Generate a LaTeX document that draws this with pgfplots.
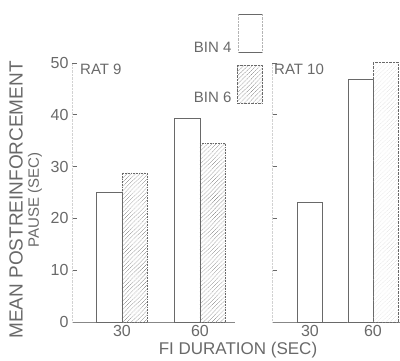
\documentclass[border=0pt]{standalone}
\usepackage{fontspec}
\setmainfont{Liberation Sans}
\usepackage{pgfplots}
\pgfplotsset{compat=1.18}
\usetikzlibrary{patterns,patterns.meta}
\definecolor{ink}{RGB}{105,105,105}
\begin{document}
\begin{tikzpicture}[x=1pt,y=1pt]
\useasboundingbox (0,0) rectangle (400,360);
\pgfplotsset{panel/.style={
  scale only axis, anchor=south west, ymin=0, ymax=50, height=259pt, clip=false,
  axis x line*=bottom, axis y line*=left,
  ytick={0,10,...,50}, tick align=inside, major tick length=5pt,
  xtick={30,60}, xtick style={draw=none},
  ytick style={draw=ink, line width=0.8pt},
  x axis line style={draw=ink!80,-},
  y axis line style={draw=ink!30,densely dotted,-},
  ticklabel style={font=\fontsize{16}{16}\selectfont, text=ink},
  /pgf/number format/assume math mode=true}}
% Left panel: RAT 9
\begin{axis}[panel, at={(72pt,38pt)}, width=163pt, xmin=10.8, xmax=73.5]
\addplot[ybar, bar width=25.5pt, bar shift=-12.75pt, fill=white, draw=ink] coordinates {(30,25.1) (60,39.4)};
\addplot[ybar, bar width=25.5pt, bar shift=12.75pt, pattern={Lines[angle=45,distance=3pt,line width=0.6pt]}, pattern color=ink!85, draw=ink, densely dotted] coordinates {(30,28.8) (60,34.5)};
\node[anchor=north west, font=\fontsize{15}{15}\selectfont, text=ink, inner sep=0pt] at (rel axis cs:0,1) [xshift=8pt, yshift=-1pt] {RAT 9};
\end{axis}
% Right panel: RAT 10
\begin{axis}[panel, at={(272pt,38pt)}, width=128pt, xmin=0.6, xmax=75.9,
  yticklabels={}, xticklabels={\hspace*{-24pt}30,60}]
\addplot[ybar, bar width=25pt, bar shift=-12.5pt, fill=white, draw=ink] coordinates {(30,23.2) (60,46.9)};
\addplot[ybar, bar width=25pt, bar shift=12.5pt, pattern={Lines[angle=45,distance=3pt,line width=0.4pt]}, pattern color=ink!30, draw=ink, densely dotted] coordinates {(30,0) (60,50.2)};
\node[anchor=north west, font=\fontsize{15}{15}\selectfont, text=ink, inner sep=0pt] at (rel axis cs:0,1) [xshift=2pt, yshift=-1pt] {RAT 10};
\end{axis}
% Legend
\draw[ink, thick] (238,346) -- (262,346);
\draw[ink, thick] (238,308) -- (262,308);
\draw[ink!50, densely dotted] (238,308) -- (238,346) (262,308) -- (262,346);
\draw[ink, densely dotted, pattern={Lines[angle=45,distance=3pt,line width=0.6pt]}, pattern color=ink] (237,257) rectangle (262,295);
\node[anchor=east, text=ink, font=\fontsize{15}{15}\selectfont] at (235,313) {BIN 4};
\node[anchor=east, text=ink, font=\fontsize{15}{15}\selectfont] at (235,263) {BIN 6};
% Axis titles
\node[rotate=90, text=ink, font=\fontsize{19}{19}\selectfont] at (16,160) {MEAN POSTREINFORCEMENT};
\node[rotate=90, text=ink, font=\fontsize{15}{15}\selectfont] at (35,160) {PAUSE (SEC)};
\node[text=ink, font=\fontsize{17}{17}\selectfont] at (238,10) {FI DURATION (SEC)};
\end{tikzpicture}
\end{document}
